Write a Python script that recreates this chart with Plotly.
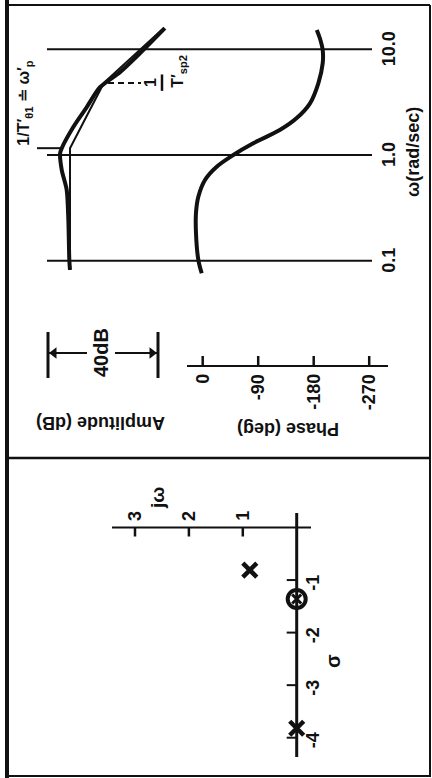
import math
import plotly.graph_objects as go

W, H = 432, 778
FONT = "Liberation Sans"
INK = "#111111"

# ---------------- Bode diagram data ----------------
# measured amplitude ratio (dB, relative to low-frequency level)
amp_freq = [0.082, 0.102, 0.244, 0.468, 0.72, 1.04, 1.16, 1.84, 2.84, 4.37, 6.07, 9.17, 15.8]
amp_db = [0.0, 0.25, 0.6, 1.2, 3.0, 3.6, 3.0, -1.2, -6.1, -10.9, -18.2, -25.5, -34.5]

# straight-line approximation
asym_freq = [0.082, 1.16, 4.8, 15.8]
asym_db = [0.0, 0.0, -12.3, -34.0]

# phase angle (deg)
phase_freq = [0.0762, 0.102, 0.183, 0.283, 0.403, 0.581, 0.775, 1.0, 1.29, 1.72,
              2.22, 3.08, 4.76, 7.36, 9.83, 12.7, 15.2]
phase_deg = [1.6, 7.1, 10.9, 10.9, 7.1, -3.7, -22.7, -49.6, -82.0, -125.0,
             -152.0, -174.0, -187.5, -194.6, -194.6, -190.0, -185.0]

freq_ticks = [0.1, 1.0, 10.0]
freq_tick_text = ["0.1", "1.0", "10.0"]
phase_ticks = [0, -90, -180, -270]
phase_tick_text = ["0", "-90", "-180", "-270"]

corner_theta1 = 1.16   # 1/T'theta1 ~ omega'p
corner_sp2 = 4.8       # 1/T'sp2
scale_bar_db = [8.0, -32.0]   # 40 dB reference bar

# ---------------- s-plane data ----------------
pole_sigma = [-0.81, -3.82]
pole_omega = [0.87, 0.0]
zero_sigma = [-1.36]
zero_omega = [0.0]
sigma_ticks = [-1, -2, -3, -4]
sigma_tick_text = ["-1", "-2", "-3", "-4"]
omega_ticks = [1, 2, 3]
omega_tick_text = ["1", "2", "3"]

# ---------------- page geometry (pixels) ----------------
AMP_X0, AMP_K = 70.0, 2.75          # column of 0 dB, px per dB (dB grows leftwards)
PH_X0, PH_K = 202.7, 55.5 / 90.0    # column of 0 deg, px per deg
FQ_Y0, FQ_K = 155.0, 105.8          # row of 1 rad/s, px per decade (frequency grows upwards)
OM_X0, OM_K = 296.7, 53.9           # column of j0, px per unit (omega grows leftwards)
SG_Y0, SG_K = 527.5, 52.55          # row of sigma = 0, px per unit


def db_at(px):
    return (AMP_X0 - px) / AMP_K


def deg_at(px):
    return (PH_X0 - px) / PH_K


def freq_at(py):
    return 10 ** ((FQ_Y0 - py) / FQ_K)


def om_at(px):
    return (OM_X0 - px) / OM_K


def sg_at(py):
    return (SG_Y0 - py) / SG_K


def py(p):
    return 1 - p / H


def px(p):
    return p / W


def bold(t):
    return "<b>" + t + "</b>"


def seg(x, y, width, xa="x", ya="y", dash=None):
    return go.Scatter(x=x, y=y, mode="lines", line=dict(color=INK, width=width, dash=dash),
                      xaxis=xa, yaxis=ya, hoverinfo="skip", showlegend=False)


fig = go.Figure()

# frequency grid lines
for f in freq_ticks:
    fig.add_trace(seg([db_at(47), db_at(372)], [f, f], 2))

# amplitude: approximation and measured curve
fig.add_trace(go.Scatter(x=asym_db, y=asym_freq, mode="lines",
                         line=dict(color=INK, width=2), xaxis="x", yaxis="y",
                         showlegend=False))
fig.add_trace(go.Scatter(x=amp_db, y=amp_freq, mode="lines",
                         line=dict(color=INK, width=4, shape="spline", smoothing=0.7),
                         xaxis="x", yaxis="y", showlegend=False))

# phase curve
fig.add_trace(go.Scatter(x=phase_deg, y=phase_freq, mode="lines",
                         line=dict(color=INK, width=4, shape="spline", smoothing=0.9),
                         xaxis="x2", yaxis="y", showlegend=False))

# corner frequency markers
fig.add_trace(seg([db_at(37), db_at(62)], [corner_theta1, corner_theta1], 2))
fig.add_trace(seg([db_at(108), db_at(141)], [corner_sp2, corner_sp2], 2, dash="6px,4px"))
fig.add_trace(seg([db_at(162), db_at(162)],
                  [corner_sp2 / 10 ** 0.075, corner_sp2 * 10 ** 0.08], 2.5))

# 40 dB reference bar: arrows pointing at the two end bars
bar_row = freq_at(353)
fig.add_trace(seg([scale_bar_db[0], db_at(87)], [bar_row, bar_row], 2))
fig.add_trace(seg([scale_bar_db[1], db_at(115)], [bar_row, bar_row], 2))
fig.add_trace(go.Scatter(x=[db_at(54), db_at(152)], y=[bar_row, bar_row], mode="markers",
                         marker=dict(symbol=["triangle-left", "triangle-right"], size=10,
                                     color=INK),
                         xaxis="x", yaxis="y", hoverinfo="skip", showlegend=False))

# ---------------- s-plane ----------------
fig.add_trace(seg([0, 0], [sg_at(513), sg_at(757)], 3, "x3", "y3"))
fig.add_trace(seg([om_at(311), om_at(112)], [0, 0], 2, "x3", "y3"))
for s in sigma_ticks:
    fig.add_trace(seg([0, om_at(OM_X0 - 10)], [s, s], 2, "x3", "y3"))
for w in omega_ticks:
    fig.add_trace(seg([w, w], [0, sg_at(SG_Y0 + 9)], 2.5, "x3", "y3"))
fig.add_trace(go.Scatter(x=zero_omega, y=zero_sigma, mode="markers",
                         marker=dict(symbol="circle-open", size=18, color=INK,
                                     line=dict(width=4, color=INK)),
                         xaxis="x3", yaxis="y3", showlegend=False, cliponaxis=False))
fig.add_trace(go.Scatter(x=zero_omega, y=zero_sigma, mode="markers",
                         marker=dict(symbol="x-thin", size=9, color=INK,
                                     line=dict(width=3, color=INK)),
                         xaxis="x3", yaxis="y3", showlegend=False, cliponaxis=False))
fig.add_trace(go.Scatter(x=pole_omega, y=pole_sigma, mode="markers",
                         marker=dict(symbol="x-thin", size=14, color=INK,
                                     line=dict(width=4.5, color=INK)),
                         xaxis="x3", yaxis="y3", showlegend=False, cliponaxis=False))

# ---------------- shapes ----------------
shapes = []
line = dict(color=INK, width=2)
# outer frame and panel divider
shapes.append(dict(type="line", xref="paper", yref="paper", x0=px(7), x1=px(7),
                   y0=py(0), y1=py(778), line=dict(color=INK, width=4)))
shapes.append(dict(type="line", xref="paper", yref="paper", x0=px(7), x1=px(430),
                   y0=py(5), y1=py(5), line=line))
shapes.append(dict(type="line", xref="paper", yref="paper", x0=px(430), x1=px(430),
                   y0=py(5), y1=py(777), line=line))
shapes.append(dict(type="line", xref="paper", yref="paper", x0=px(7), x1=px(430),
                   y0=py(776), y1=py(776), line=line))
shapes.append(dict(type="line", xref="paper", yref="paper", x0=px(7), x1=px(430),
                   y0=py(458), y1=py(458), line=dict(color=INK, width=2.5)))
# 40 dB reference bar ends
for d in scale_bar_db:
    shapes.append(dict(type="line", xref="x", yref="paper", x0=d, x1=d,
                       y0=py(332), y1=py(378), line=dict(color=INK, width=3)))
# phase scale
shapes.append(dict(type="line", xref="x2", yref="paper", x0=deg_at(187), x1=deg_at(388),
                   y0=py(366), y1=py(366), line=line))
for t in phase_ticks:
    shapes.append(dict(type="line", xref="x2", yref="paper", x0=t, x1=t,
                       y0=py(356), y1=py(366), line=dict(color=INK, width=2.5)))

# ---------------- annotations ----------------
ann = []
F = dict(family=FONT, color=INK)

for f, t in zip(freq_ticks, freq_tick_text):
    ann.append(dict(xref="paper", yref="y", x=px(389), y=math.log10(f), text=bold(t),
                    textangle=-90, showarrow=False, xanchor="center", yanchor="middle",
                    font=dict(size=18, **F)))
ann.append(dict(xref="paper", yref="paper", x=px(413), y=py(152), text=bold("ω(rad/sec)"),
                textangle=-90, showarrow=False, xanchor="center", yanchor="middle",
                font=dict(size=18, **F)))
ann.append(dict(xref="paper", yref="y", x=px(25), y=math.log10(corner_theta1),
                text=bold("1/T′<sub>θ1</sub> ≐ ω′<sub>p</sub>"), textangle=-90,
                showarrow=False, xanchor="center", yanchor="bottom",
                font=dict(size=16, **F)))
ann.append(dict(xref="paper", yref="y", x=px(151), y=math.log10(corner_sp2), text=bold("1"),
                textangle=-90, showarrow=False, xanchor="center", yanchor="middle",
                font=dict(size=16, **F)))
ann.append(dict(xref="paper", yref="y", x=px(179), y=math.log10(corner_sp2 / 10 ** 0.07),
                text=bold("T′<sub>sp2</sub>"), textangle=-90, showarrow=False,
                xanchor="center", yanchor="bottom", font=dict(size=16, **F)))

ann.append(dict(xref="paper", yref="paper", x=px(101), y=py(353), text=bold("40dB"),
                textangle=-90, showarrow=False, xanchor="center", yanchor="middle",
                font=dict(size=20, **F)))
ann.append(dict(xref="paper", yref="paper", x=px(101), y=py(423), text=bold("Amplitude (dB)"),
                textangle=180, showarrow=False, xanchor="center", yanchor="middle",
                font=dict(size=18, **F)))
ann.append(dict(xref="paper", yref="paper", x=px(288), y=py(429), text=bold("Phase (deg)"),
                textangle=180, showarrow=False, xanchor="center", yanchor="middle",
                font=dict(size=18, **F)))
for t, txt in zip(phase_ticks, phase_tick_text):
    ann.append(dict(xref="x2", yref="paper", x=t, y=py(372), text=bold(txt),
                    textangle=-90, showarrow=False, xanchor="center", yanchor="top",
                    font=dict(size=18, **F)))

# s-plane labels
for s, txt in zip(sigma_ticks, sigma_tick_text):
    ann.append(dict(xref="x3", yref="y3", x=om_at(313), y=s - 0.05, text=bold(txt),
                    textangle=-90, showarrow=False, xanchor="center", yanchor="middle",
                    font=dict(size=18, **F)))
for w, txt in zip(omega_ticks, omega_tick_text):
    ann.append(dict(xref="x3", yref="y3", x=w, y=sg_at(516), text=bold(txt),
                    textangle=-90, showarrow=False, xanchor="center", yanchor="middle",
                    font=dict(size=18, **F)))
ann.append(dict(xref="x3", yref="y3", x=om_at(333), y=sg_at(661), text=bold("σ"),
                textangle=-90, showarrow=False, xanchor="center", yanchor="middle",
                font=dict(size=20, **F)))
ann.append(dict(xref="x3", yref="y3", x=om_at(157), y=sg_at(498), text=bold("jω"),
                textangle=-90, showarrow=False, xanchor="center", yanchor="middle",
                font=dict(size=19, **F)))

hidden = dict(visible=False, showgrid=False, zeroline=False, fixedrange=True)
fig.update_layout(
    width=W, height=H,
    margin=dict(l=0, r=0, t=0, b=0),
    paper_bgcolor="white", plot_bgcolor="white",
    showlegend=False,
    xaxis=dict(range=[AMP_X0 / AMP_K, (AMP_X0 - W) / AMP_K], domain=[0, 1],
               anchor="y", **hidden),
    xaxis2=dict(range=[PH_X0 / PH_K, (PH_X0 - W) / PH_K], overlaying="x",
                anchor="y", **hidden),
    xaxis3=dict(range=[OM_X0 / OM_K, (OM_X0 - W) / OM_K], overlaying="x",
                anchor="y3", **hidden),
    yaxis=dict(type="log", range=[(FQ_Y0 - H) / FQ_K, FQ_Y0 / FQ_K], domain=[0, 1],
               anchor="x", **hidden),
    yaxis3=dict(range=[(SG_Y0 - H) / SG_K, SG_Y0 / SG_K], overlaying="y",
                anchor="x3", **hidden),
    shapes=shapes,
    annotations=ann,
)

fig.write_html("out.html", config={"displayModeBar": False})
